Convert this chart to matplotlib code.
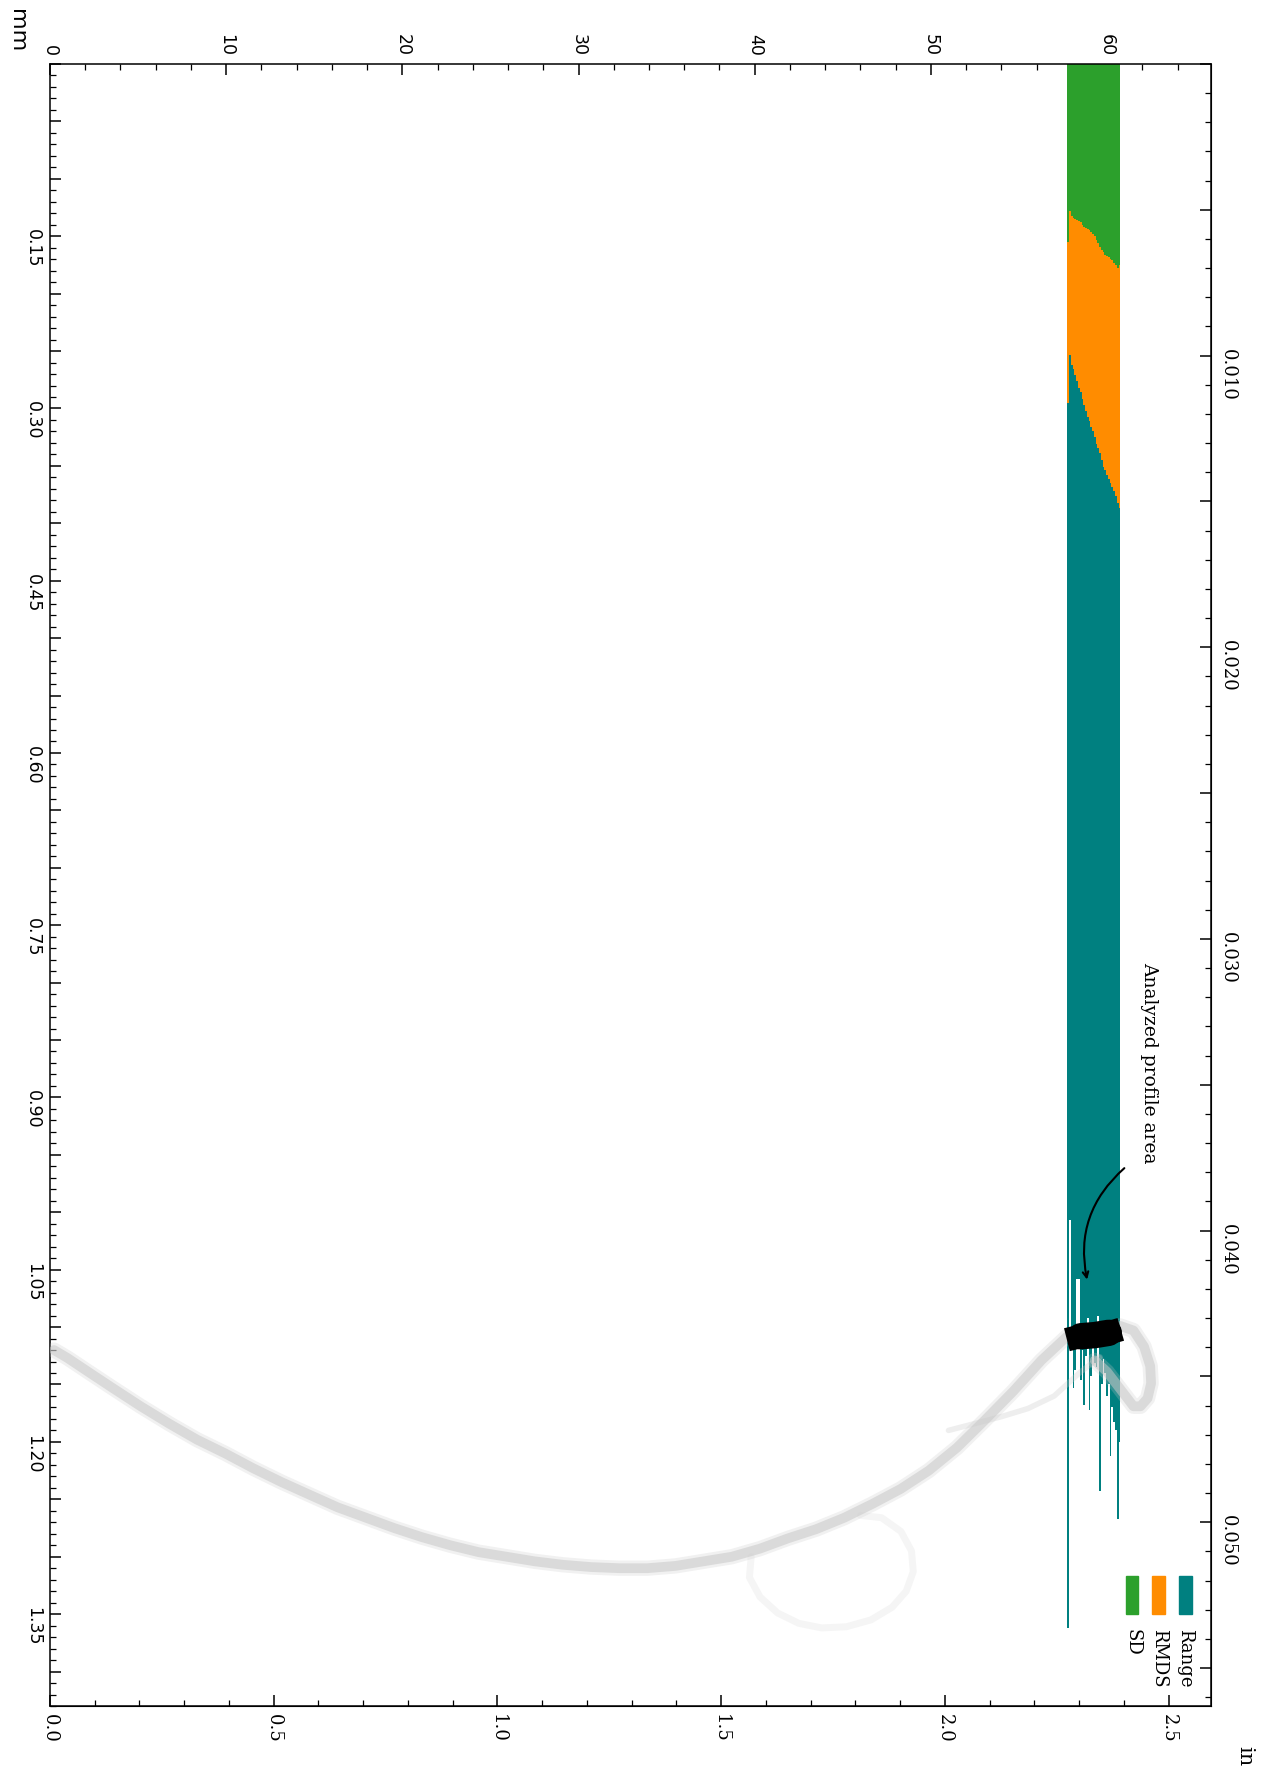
import matplotlib
matplotlib.use("Agg")
import matplotlib.pyplot as plt
from matplotlib.patches import Rectangle
from matplotlib.ticker import MultipleLocator, FuncFormatter

MM_PER_IN = 25.4

# Height levels of the analysed band (mm) and the three metrics per level (mm)
levels = [57.8, 57.9, 58.0, 58.1, 58.2, 58.3, 58.4, 58.5, 58.6, 58.7,
          58.8, 58.9, 59.0, 59.1, 59.2, 59.3, 59.4, 59.5, 59.6, 59.7,
          59.8, 59.9, 60.0, 60.1, 60.2, 60.3, 60.4, 60.5, 60.6, 60.7]
sd_vals = [0.155, 0.128, 0.132, 0.134, 0.135, 0.136, 0.137, 0.138, 0.140, 0.142,
           0.143, 0.144, 0.145, 0.146, 0.148, 0.150, 0.153, 0.156, 0.159, 0.162,
           0.164, 0.166, 0.167, 0.168, 0.170, 0.171, 0.173, 0.175, 0.178, 0.175]
rmds_vals = [0.295, 0.253, 0.262, 0.266, 0.271, 0.276, 0.282, 0.286, 0.292, 0.297,
             0.302, 0.307, 0.311, 0.316, 0.320, 0.325, 0.331, 0.334, 0.339, 0.345,
             0.351, 0.354, 0.358, 0.361, 0.365, 0.368, 0.372, 0.376, 0.382, 0.387]
range_vals = [1.362, 1.007, 1.120, 1.153, 1.137, 1.058, 1.058, 1.146, 1.120, 1.168,
              1.125, 1.092, 1.172, 1.143, 1.118, 1.131, 1.135, 1.090, 1.243, 1.150,
              1.128, 1.140, 1.160, 1.150, 1.212, 1.170, 1.183, 1.190, 1.267, 1.200]

# Scanned profile (height mm, position mm)
profile_h = [0.23, 1.00, 2.27, 3.55, 5.15, 6.75, 8.34, 9.94, 11.54, 13.14,
             14.73, 16.33, 17.93, 19.53, 21.12, 22.72, 24.32, 25.92, 27.51, 29.11,
             30.71, 32.31, 33.90, 35.50, 37.10, 38.70, 40.29, 41.89, 43.49, 45.09,
             46.68, 48.28, 49.88, 51.48, 53.07, 54.67, 56.27, 57.74, 59.2, 60.75,
             61.5, 62.1, 62.45, 62.5, 62.3, 61.9, 61.5, 60.9, 60.0, 59.3]
profile_pos = [1.120, 1.127, 1.140, 1.153, 1.169, 1.184, 1.198, 1.210, 1.223, 1.235,
               1.246, 1.257, 1.266, 1.275, 1.283, 1.290, 1.296, 1.300, 1.304, 1.307,
               1.309, 1.310, 1.310, 1.308, 1.304, 1.300, 1.293, 1.284, 1.276, 1.266,
               1.254, 1.241, 1.225, 1.205, 1.181, 1.156, 1.129, 1.108, 1.104, 1.099,
               1.103, 1.117, 1.134, 1.149, 1.162, 1.169, 1.169, 1.157, 1.139, 1.129]
strand_h = [51.0, 52.5, 54.0, 55.5, 57.0, 58.5, 59.6]
strand_pos = [1.190, 1.184, 1.178, 1.171, 1.160, 1.139, 1.126]
ring_h = [39.8, 39.7, 40.3, 41.3, 42.5, 43.8, 45.2, 46.6, 47.8, 48.6,
          49.0, 48.9, 48.3, 47.2, 46.0]
ring_pos = [1.300, 1.318, 1.335, 1.349, 1.358, 1.362, 1.361, 1.355, 1.344, 1.330,
            1.313, 1.295, 1.278, 1.266, 1.264]

# Analysed profile area
analyzed_h = [57.72, 58.5, 59.3, 60.1, 60.78]
analyzed_pos = [1.111, 1.108, 1.107, 1.105, 1.102]

series = [("Range", range_vals, "#008080"),
          ("RMDS", rmds_vals, "#ff8c00"),
          ("SD", sd_vals, "#2ca02c")]


def main():
    fig = plt.figure(figsize=(12.63, 17.67), dpi=100)
    ax = fig.add_axes([50 / 1263, 1 - 1706 / 1767, 1161 / 1263, 1642 / 1767])

    for name, vals, color in series:
        ax.bar(levels, vals, width=0.1, bottom=0, color=color, edgecolor="none",
               linewidth=0, zorder=2)

    # soft grey point cloud of the profile
    for lw, alpha in [(11, 0.25), (7, 0.55)]:
        ax.plot(profile_h, profile_pos, color="#c8c8c8", lw=lw, alpha=alpha,
                solid_capstyle="round", solid_joinstyle="round", zorder=3)
    ax.plot(strand_h, strand_pos, color="#c8c8c8", lw=4, alpha=0.3,
            solid_capstyle="round", zorder=3)
    ax.plot(ring_h, ring_pos, color="#cfcfcf", lw=5, alpha=0.2,
            solid_joinstyle="round", solid_capstyle="round", zorder=3)
    ax.plot(analyzed_h, analyzed_pos, color="black", lw=17, solid_capstyle="butt",
            solid_joinstyle="round", zorder=4)
    ax.plot(analyzed_h[1:-1], analyzed_pos[1:-1], color="black", lw=19,
            solid_capstyle="round", zorder=4)

    ax.text(62.4, 0.87, "Analyzed profile area", rotation=-90, ha="center",
            va="center", family="DejaVu Serif", fontsize=13.5)
    ax.annotate("", xy=(58.9, 1.061), xytext=(61.1, 0.960),
                arrowprops=dict(arrowstyle="->", color="black", lw=1.5,
                                connectionstyle="arc3,rad=0.3"))

    ax.set_xlim(0, 65.9)
    ax.set_ylim(1.43, 0)

    # mm axes: top and left
    ax.xaxis.tick_top()
    ax.xaxis.set_major_locator(MultipleLocator(10))
    ax.xaxis.set_minor_locator(MultipleLocator(2))
    ax.yaxis.set_major_locator(MultipleLocator(0.05))
    ax.yaxis.set_minor_locator(MultipleLocator(0.01))
    ax.yaxis.set_major_formatter(FuncFormatter(
        lambda v, p: f"{v:.2f}" if v > 0.01 and abs(v / 0.15 - round(v / 0.15)) < 1e-6 else ""))
    ax.tick_params(which="both", direction="in", top=True, bottom=False,
                   left=True, right=False, labeltop=True, labelbottom=False)
    ax.tick_params(which="major", length=8, width=1.1, labelsize=12.5, pad=6)
    ax.tick_params(which="minor", length=4.5, width=0.9)
    ax.tick_params(axis="both", labelrotation=-90)

    # inch axes: bottom and right
    sec_x = ax.secondary_xaxis("bottom", functions=(lambda x: x / MM_PER_IN,
                                                    lambda x: x * MM_PER_IN))
    sec_x.xaxis.set_major_locator(MultipleLocator(0.5))
    sec_x.xaxis.set_minor_locator(MultipleLocator(0.1))
    sec_x.xaxis.set_major_formatter(FuncFormatter(lambda v, p: f"{v:.1f}"))
    sec_y = ax.secondary_yaxis("right", functions=(lambda y: y / MM_PER_IN,
                                                   lambda y: y * MM_PER_IN))
    sec_y.yaxis.set_major_locator(MultipleLocator(0.005))
    sec_y.yaxis.set_minor_locator(MultipleLocator(0.001))
    sec_y.yaxis.set_major_formatter(FuncFormatter(
        lambda v, p: f"{v:.3f}" if v > 0.001 and abs(v / 0.01 - round(v / 0.01)) < 1e-6 else ""))
    for sec in (sec_x, sec_y):
        sec.tick_params(which="both", direction="in")
        sec.tick_params(which="major", length=8, width=1.1, labelsize=13, pad=6,
                        labelfontfamily="DejaVu Serif", labelrotation=-90)
        sec.tick_params(which="minor", length=4.5, width=0.9)

    for sp in ax.spines.values():
        sp.set_linewidth(1.1)

    # legend drawn by hand, rotated like the rest of the chart
    legend_x = [0.978, 0.955, 0.932]
    for (name, vals, color), lx in zip(series, legend_x):
        ax.add_patch(Rectangle((lx - 0.0055, 0.056), 0.011, 0.023,
                               transform=ax.transAxes, color=color, zorder=5))
        ax.text(lx, 0.047, name, transform=ax.transAxes, rotation=-90,
                ha="center", va="top", family="DejaVu Serif", fontsize=13)

    fig.text(17 / 1263, 1 - 31 / 1767, "mm", rotation=-90, ha="center",
             va="center", fontsize=16)
    fig.text(1245 / 1263, 1 - 1756 / 1767, "in", rotation=-90, ha="center",
             va="center", family="DejaVu Serif", fontsize=15)

    fig.savefig("out.png", dpi=100)


if __name__ == "__main__":
    main()
